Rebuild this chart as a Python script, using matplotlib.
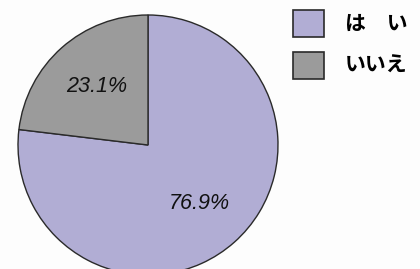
import matplotlib
matplotlib.use("Agg")
import matplotlib.pyplot as plt

labels = ["は\u3000い", "いいえ"]
values = [76.9, 23.1]
colors = ["#b1add4", "#9b9b9b"]

plt.rcParams['font.family'] = ['Noto Sans CJK JP', 'DejaVu Sans']

fig = plt.figure(figsize=(4.2, 2.69), dpi=100)
fig.patch.set_facecolor("#fdfdfd")
ax = fig.add_axes([0, 0, 1, 1])

wedges, texts, autotexts = ax.pie(
    values, colors=colors, startangle=90, counterclock=False,
    center=(148, 124), radius=130, autopct='%.1f%%', pctdistance=0.6,
    wedgeprops=dict(edgecolor="#2a2a2a", linewidth=1.0),
    textprops=dict(fontsize=15.5, style='italic', family='Liberation Sans', color='#111111'),
)

ax.set_xlim(0, 420)
ax.set_ylim(0, 269)
ax.set_aspect('equal')
ax.axis('off')

leg = ax.legend(
    wedges, labels, loc='upper left', bbox_to_anchor=(293 / 420, 1 - 10 / 269),
    frameon=False, handlelength=1.49, handleheight=1.62,
    handletextpad=1.0, labelspacing=0.7, borderpad=0.0, borderaxespad=0.0,
    prop=dict(family='Noto Sans CJK JP', weight='bold', size=15),
)
for p in leg.get_patches():
    p.set_edgecolor("#2a2a2a")
    p.set_linewidth(1.2)

fig.savefig("out.png", dpi=100, facecolor=fig.get_facecolor())
